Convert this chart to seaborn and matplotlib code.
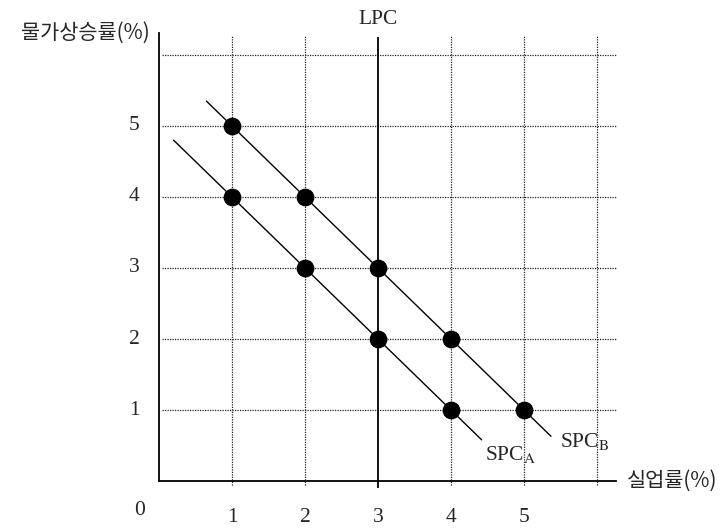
import numpy as np
import pandas as pd
import matplotlib
matplotlib.use('Agg')
import matplotlib.pyplot as plt
import seaborn as sns

# data
spc_a_x = [1, 2, 3, 4]
spc_a_y = [4, 3, 2, 1]
spc_b_x = [1, 2, 3, 4, 5]
spc_b_y = [5, 4, 3, 2, 1]
spc_a_range = [0.2, 4.42]
spc_b_range = [0.65, 5.37]
lpc_x = 3
tick_vals = [1, 2, 3, 4, 5]
grid_vals = [1, 2, 3, 4, 5, 6]

sns.set_style('white')
plt.rcParams['font.family'] = ['Liberation Serif', 'Noto Sans CJK KR', 'DejaVu Sans']
plt.rcParams['mathtext.fontset'] = 'stix'

fig = plt.figure(figsize=(7.28, 5.29), dpi=100)
ax = fig.add_axes([0.2184, 0.0907, 0.6277, 0.847])
xmax, ymax = 6.26, 6.31
ax.set_xlim(0, xmax)
ax.set_ylim(0, ymax)

# dotted grid
ax.vlines([g for g in grid_vals if g != lpc_x], 0 - 0.06, ymax - 0.03,
          colors='#222222', linestyles=(0, (1, 1)), linewidth=0.9, clip_on=False)
ax.hlines(grid_vals, 0.04, xmax, colors='#222222',
          linestyles=(0, (1, 1)), linewidth=0.9, clip_on=False)

# LPC
ax.vlines(lpc_x, -0.1, ymax - 0.06, colors='black', linewidth=1.3, clip_on=False)

# short-run Phillips curves (slope -1 through the points)
line_a = pd.DataFrame({'x': spc_a_range, 'y': [5 - v for v in spc_a_range]})
line_b = pd.DataFrame({'x': spc_b_range, 'y': [6 - v for v in spc_b_range]})
sns.lineplot(data=line_a, x='x', y='y', color='black', linewidth=1, ax=ax)
sns.lineplot(data=line_b, x='x', y='y', color='black', linewidth=1, ax=ax)

pts = pd.DataFrame({'x': spc_a_x + spc_b_x, 'y': spc_a_y + spc_b_y})
sns.scatterplot(data=pts, x='x', y='y', color='black', s=140,
                edgecolor='black', zorder=5, ax=ax, clip_on=False)

# axes lines
for side in ['top', 'right']:
    ax.spines[side].set_visible(False)
ax.spines['left'].set_linewidth(1.3)
ax.spines['bottom'].set_linewidth(1.3)
ax.spines['left'].set_color('black')
ax.spines['bottom'].set_color('black')

ax.set_xticks([])
ax.set_yticks([])
ax.set_xlabel('')
ax.set_ylabel('')

fs = 15.5
for v in tick_vals:
    ax.text(v, -0.52, str(v), ha='center', va='center', fontsize=fs)
    ax.text(-0.34, v, str(v), ha='center', va='center', fontsize=fs)
ax.text(-0.26, -0.42, '0', ha='center', va='center', fontsize=fs)

ax.text(lpc_x, ymax + 0.19, 'LPC', ha='center', va='center', fontsize=fs)
ax.text(4.46, 0.37, r'SPC$_{\mathrm{A}}$', ha='left', va='center', fontsize=fs)
ax.text(5.5, 0.56, r'SPC$_{\mathrm{B}}$', ha='left', va='center', fontsize=fs)

ax.text(-0.13, ymax + 0.0, '물가상승률(%)', ha='right', va='center', fontsize=15,
        family=['Noto Sans CJK KR', 'Liberation Serif'])
ax.text(xmax + 0.15, 0.0, '실업률(%)', ha='left', va='center', fontsize=15,
        family=['Noto Sans CJK KR', 'Liberation Serif'])

fig.savefig('out.png', dpi=100)
